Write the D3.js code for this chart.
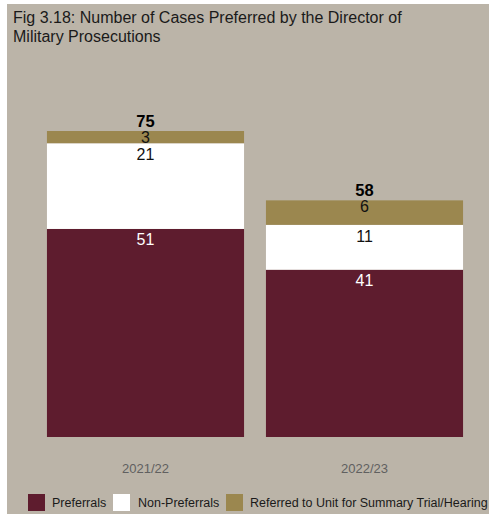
<!DOCTYPE html>
<html>
<head>
<meta charset="utf-8">
<script src="https://cdn.jsdelivr.net/npm/d3@7"></script>
<style>
  html, body { margin: 0; padding: 0; background: #ffffff; }
  svg { display: block; font-family: "Liberation Sans", Arial, sans-serif; }
</style>
</head>
<body>
<svg id="chart" width="489" height="518"></svg>
<script>
// Fiscal years on the x axis
const years = ["2021/22", "2022/23"];
// Series, stacked bottom to top
const seriesNames = ["Preferrals", "Non-Preferrals", "Referred to Unit for Summary Trial/Hearing"];
const preferrals = [51, 41];
const nonPreferrals = [21, 11];
const referred = [3, 6];
const seriesColors = ["#5e1c2e", "#ffffff", "#9b874f"];
const labelColors = ["#ffffff", "#111111", "#111111"];

const W = 489, H = 518;
const svg = d3.select("#chart");

// panel background
svg.append("rect")
  .attr("x", 7).attr("y", 4)
  .attr("width", W - 7).attr("height", 510)
  .attr("fill", "#bbb4a8");

// title
const title = svg.append("text")
  .attr("x", 13).attr("y", 23)
  .attr("font-size", 16).attr("fill", "#1a1a1a");
title.append("tspan").attr("x", 13).attr("dy", 0)
  .text("Fig 3.18: Number of Cases Preferred by the Director of");
title.append("tspan").attr("x", 13).attr("dy", 19)
  .text("Military Prosecutions");

// build stacked data
const table = years.map((y, i) => ({
  year: y,
  [seriesNames[0]]: preferrals[i],
  [seriesNames[1]]: nonPreferrals[i],
  [seriesNames[2]]: referred[i]
}));
const stacked = d3.stack().keys(seriesNames)(table);
const totals = table.map(d => seriesNames.reduce((s, k) => s + d[k], 0));

const x = d3.scaleBand()
  .domain(years)
  .range([36, 474])
  .paddingInner(0.1)
  .paddingOuter(0.05);

const y = d3.scaleLinear()
  .domain([0, d3.max(totals)])
  .range([437, 131]);

// bars
const layers = svg.append("g").selectAll("g")
  .data(stacked)
  .join("g")
  .attr("fill", (d, i) => seriesColors[i]);

layers.selectAll("rect")
  .data(d => d)
  .join("rect")
  .attr("x", d => x(d.data.year))
  .attr("width", x.bandwidth())
  .attr("y", d => y(d[1]))
  .attr("height", d => y(d[0]) - y(d[1]));

// segment value labels, placed just inside the top of each segment
const labelOffset = [16, 17, 12];
svg.append("g").selectAll("g")
  .data(stacked)
  .join("g")
  .each(function (layer, li) {
    d3.select(this).selectAll("text")
      .data(layer)
      .join("text")
      .attr("x", d => x(d.data.year) + x.bandwidth() / 2)
      .attr("y", d => y(d[1]) + labelOffset[li])
      .attr("text-anchor", "middle")
      .attr("font-size", 16)
      .attr("fill", labelColors[li])
      .text(d => d[1] - d[0]);
  });

// totals above bars
svg.append("g").selectAll("text")
  .data(years)
  .join("text")
  .attr("x", d => x(d) + x.bandwidth() / 2)
  .attr("y", (d, i) => y(totals[i]) - 4)
  .attr("text-anchor", "middle")
  .attr("font-size", 16.5)
  .attr("font-weight", "bold")
  .attr("fill", "#000")
  .text((d, i) => totals[i]);

// x axis (labels only)
const xAxis = svg.append("g")
  .attr("transform", "translate(0,437)")
  .call(d3.axisBottom(x).tickSize(0).tickPadding(27));
xAxis.select(".domain").remove();
xAxis.selectAll("text")
  .attr("font-family", "Liberation Sans, Arial, sans-serif")
  .attr("font-size", 13)
  .attr("fill", "#606060");

// legend
const legendItems = [
  { x: 28, tx: 52 },
  { x: 113, tx: 138 },
  { x: 226, tx: 250 }
];
const legend = svg.append("g");
seriesNames.forEach((name, i) => {
  legend.append("rect")
    .attr("x", legendItems[i].x).attr("y", 494)
    .attr("width", 17).attr("height", 17)
    .attr("fill", seriesColors[i]);
  legend.append("text")
    .attr("x", legendItems[i].tx).attr("y", 507)
    .attr("font-size", 12.5)
    .attr("fill", "#1a1a1a")
    .text(name);
});
</script>
</body>
</html>
